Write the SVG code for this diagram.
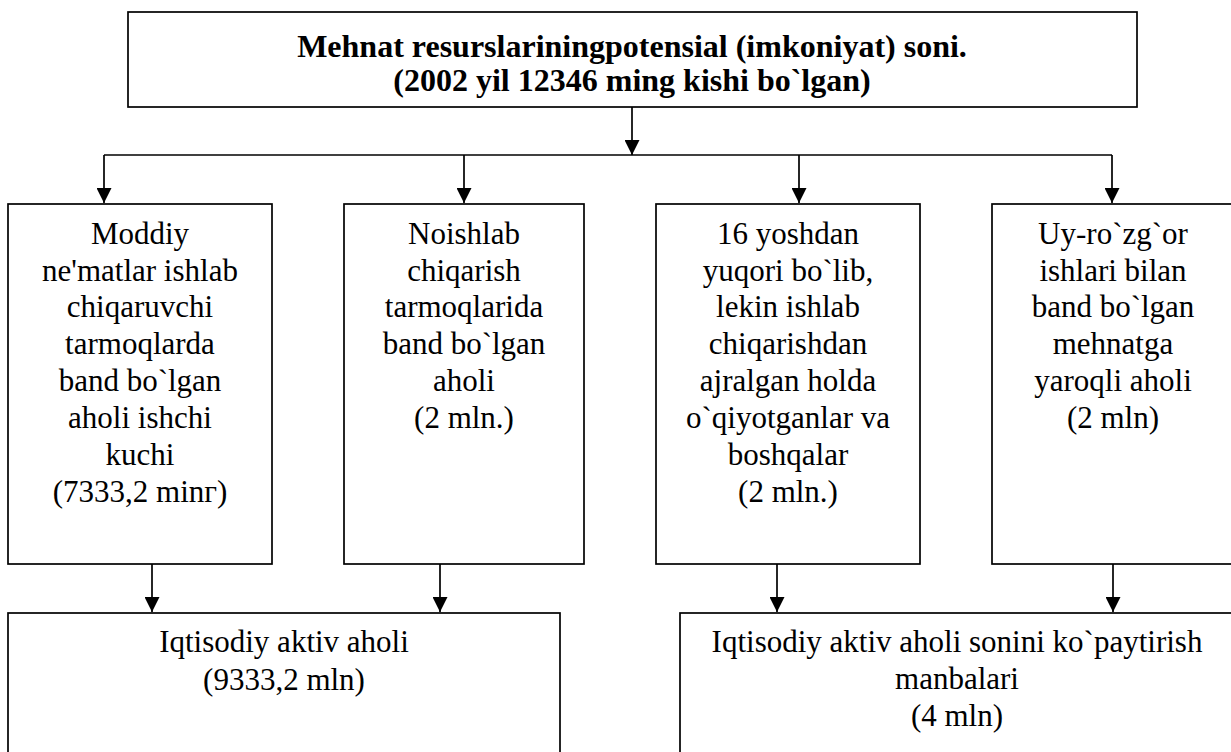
<svg xmlns="http://www.w3.org/2000/svg" width="1231" height="752" viewBox="0 0 1231 752">
<style>
.box{fill:#fff;stroke:#000;stroke-width:1.7}
.t{font-family:"Liberation Serif","Times New Roman",serif;font-size:31px;fill:#000;text-anchor:middle}
.b{font-family:"Liberation Serif","Times New Roman",serif;font-size:32px;font-weight:bold;fill:#000;text-anchor:middle}
.c{fill:none;stroke:#000;stroke-width:1.7}
</style>
<defs>
<marker id="ah" markerUnits="userSpaceOnUse" markerWidth="15" markerHeight="15" refX="15" refY="7.5" orient="auto">
<path d="M0,0 L15,7.5 L0,15 z" fill="#000"/>
</marker>
</defs>
<rect width="1231" height="752" fill="#fff"/>
<g id="top">
<rect class="box" x="128" y="12" width="1009" height="95"/>
<text class="b" x="632" y="57">Mehnat resurslariningpotensial (imkoniyat) soni.</text>
<text class="b" x="632" y="91">(2002 yil 12346 ming kishi bo`lgan)</text>
</g>
<g id="n1">
<rect class="box" x="8" y="204" width="264" height="360"/>
<text class="t" x="140" y="244">Moddiy</text>
<text class="t" x="140" y="281">ne'matlar ishlab</text>
<text class="t" x="140" y="317">chiqaruvchi</text>
<text class="t" x="140" y="354">tarmoqlarda</text>
<text class="t" x="140" y="391">band bo`lgan</text>
<text class="t" x="140" y="428">aholi ishchi</text>
<text class="t" x="140" y="465">kuchi</text>
<text class="t" x="140" y="502">(7333,2 minг)</text>
</g>
<g id="n2">
<rect class="box" x="344" y="204" width="240" height="360"/>
<text class="t" x="464" y="244">Noishlab</text>
<text class="t" x="464" y="281">chiqarish</text>
<text class="t" x="464" y="317">tarmoqlarida</text>
<text class="t" x="464" y="354">band bo`lgan</text>
<text class="t" x="464" y="391">aholi</text>
<text class="t" x="464" y="428">(2 mln.)</text>
</g>
<g id="n3">
<rect class="box" x="656" y="204" width="264" height="360"/>
<text class="t" x="788" y="244">16 yoshdan</text>
<text class="t" x="788" y="281">yuqori bo`lib,</text>
<text class="t" x="788" y="317">lekin ishlab</text>
<text class="t" x="788" y="354">chiqarishdan</text>
<text class="t" x="788" y="391">ajralgan holda</text>
<text class="t" x="788" y="428">o`qiyotganlar va</text>
<text class="t" x="788" y="465">boshqalar</text>
<text class="t" x="788" y="502">(2 mln.)</text>
</g>
<g id="n4">
<rect class="box" x="992" y="204" width="242" height="360"/>
<text class="t" x="1113" y="244">Uy-ro`zg`or</text>
<text class="t" x="1113" y="281">ishlari bilan</text>
<text class="t" x="1113" y="317">band bo`lgan</text>
<text class="t" x="1113" y="354">mehnatga</text>
<text class="t" x="1113" y="391">yaroqli aholi</text>
<text class="t" x="1113" y="428">(2 mln)</text>
</g>
<g id="b1">
<rect class="box" x="8" y="613" width="552" height="150"/>
<text class="t" x="284" y="652">Iqtisodiy aktiv aholi</text>
<text class="t" x="284" y="690">(9333,2 mln)</text>
</g>
<g id="b2">
<rect class="box" x="680" y="613" width="554" height="150"/>
<text class="t" x="957" y="652">Iqtisodiy aktiv aholi sonini ko`paytirish</text>
<text class="t" x="957" y="689">manbalari</text>
<text class="t" x="957" y="726">(4 mln)</text>
</g>
<g id="connectors">
<line class="c" x1="632" y1="107" x2="632" y2="155" marker-end="url(#ah)"/>
<line class="c" x1="104" y1="155" x2="1112" y2="155"/>
<line class="c" x1="104" y1="155" x2="104" y2="203" marker-end="url(#ah)"/>
<line class="c" x1="464" y1="155" x2="464" y2="203" marker-end="url(#ah)"/>
<line class="c" x1="799" y1="155" x2="799" y2="203" marker-end="url(#ah)"/>
<line class="c" x1="1112" y1="155" x2="1112" y2="203" marker-end="url(#ah)"/>
<line class="c" x1="152" y1="564" x2="152" y2="612" marker-end="url(#ah)"/>
<line class="c" x1="440" y1="564" x2="440" y2="612" marker-end="url(#ah)"/>
<line class="c" x1="777" y1="564" x2="777" y2="612" marker-end="url(#ah)"/>
<line class="c" x1="1113" y1="564" x2="1113" y2="612" marker-end="url(#ah)"/>
</g>
</svg>
